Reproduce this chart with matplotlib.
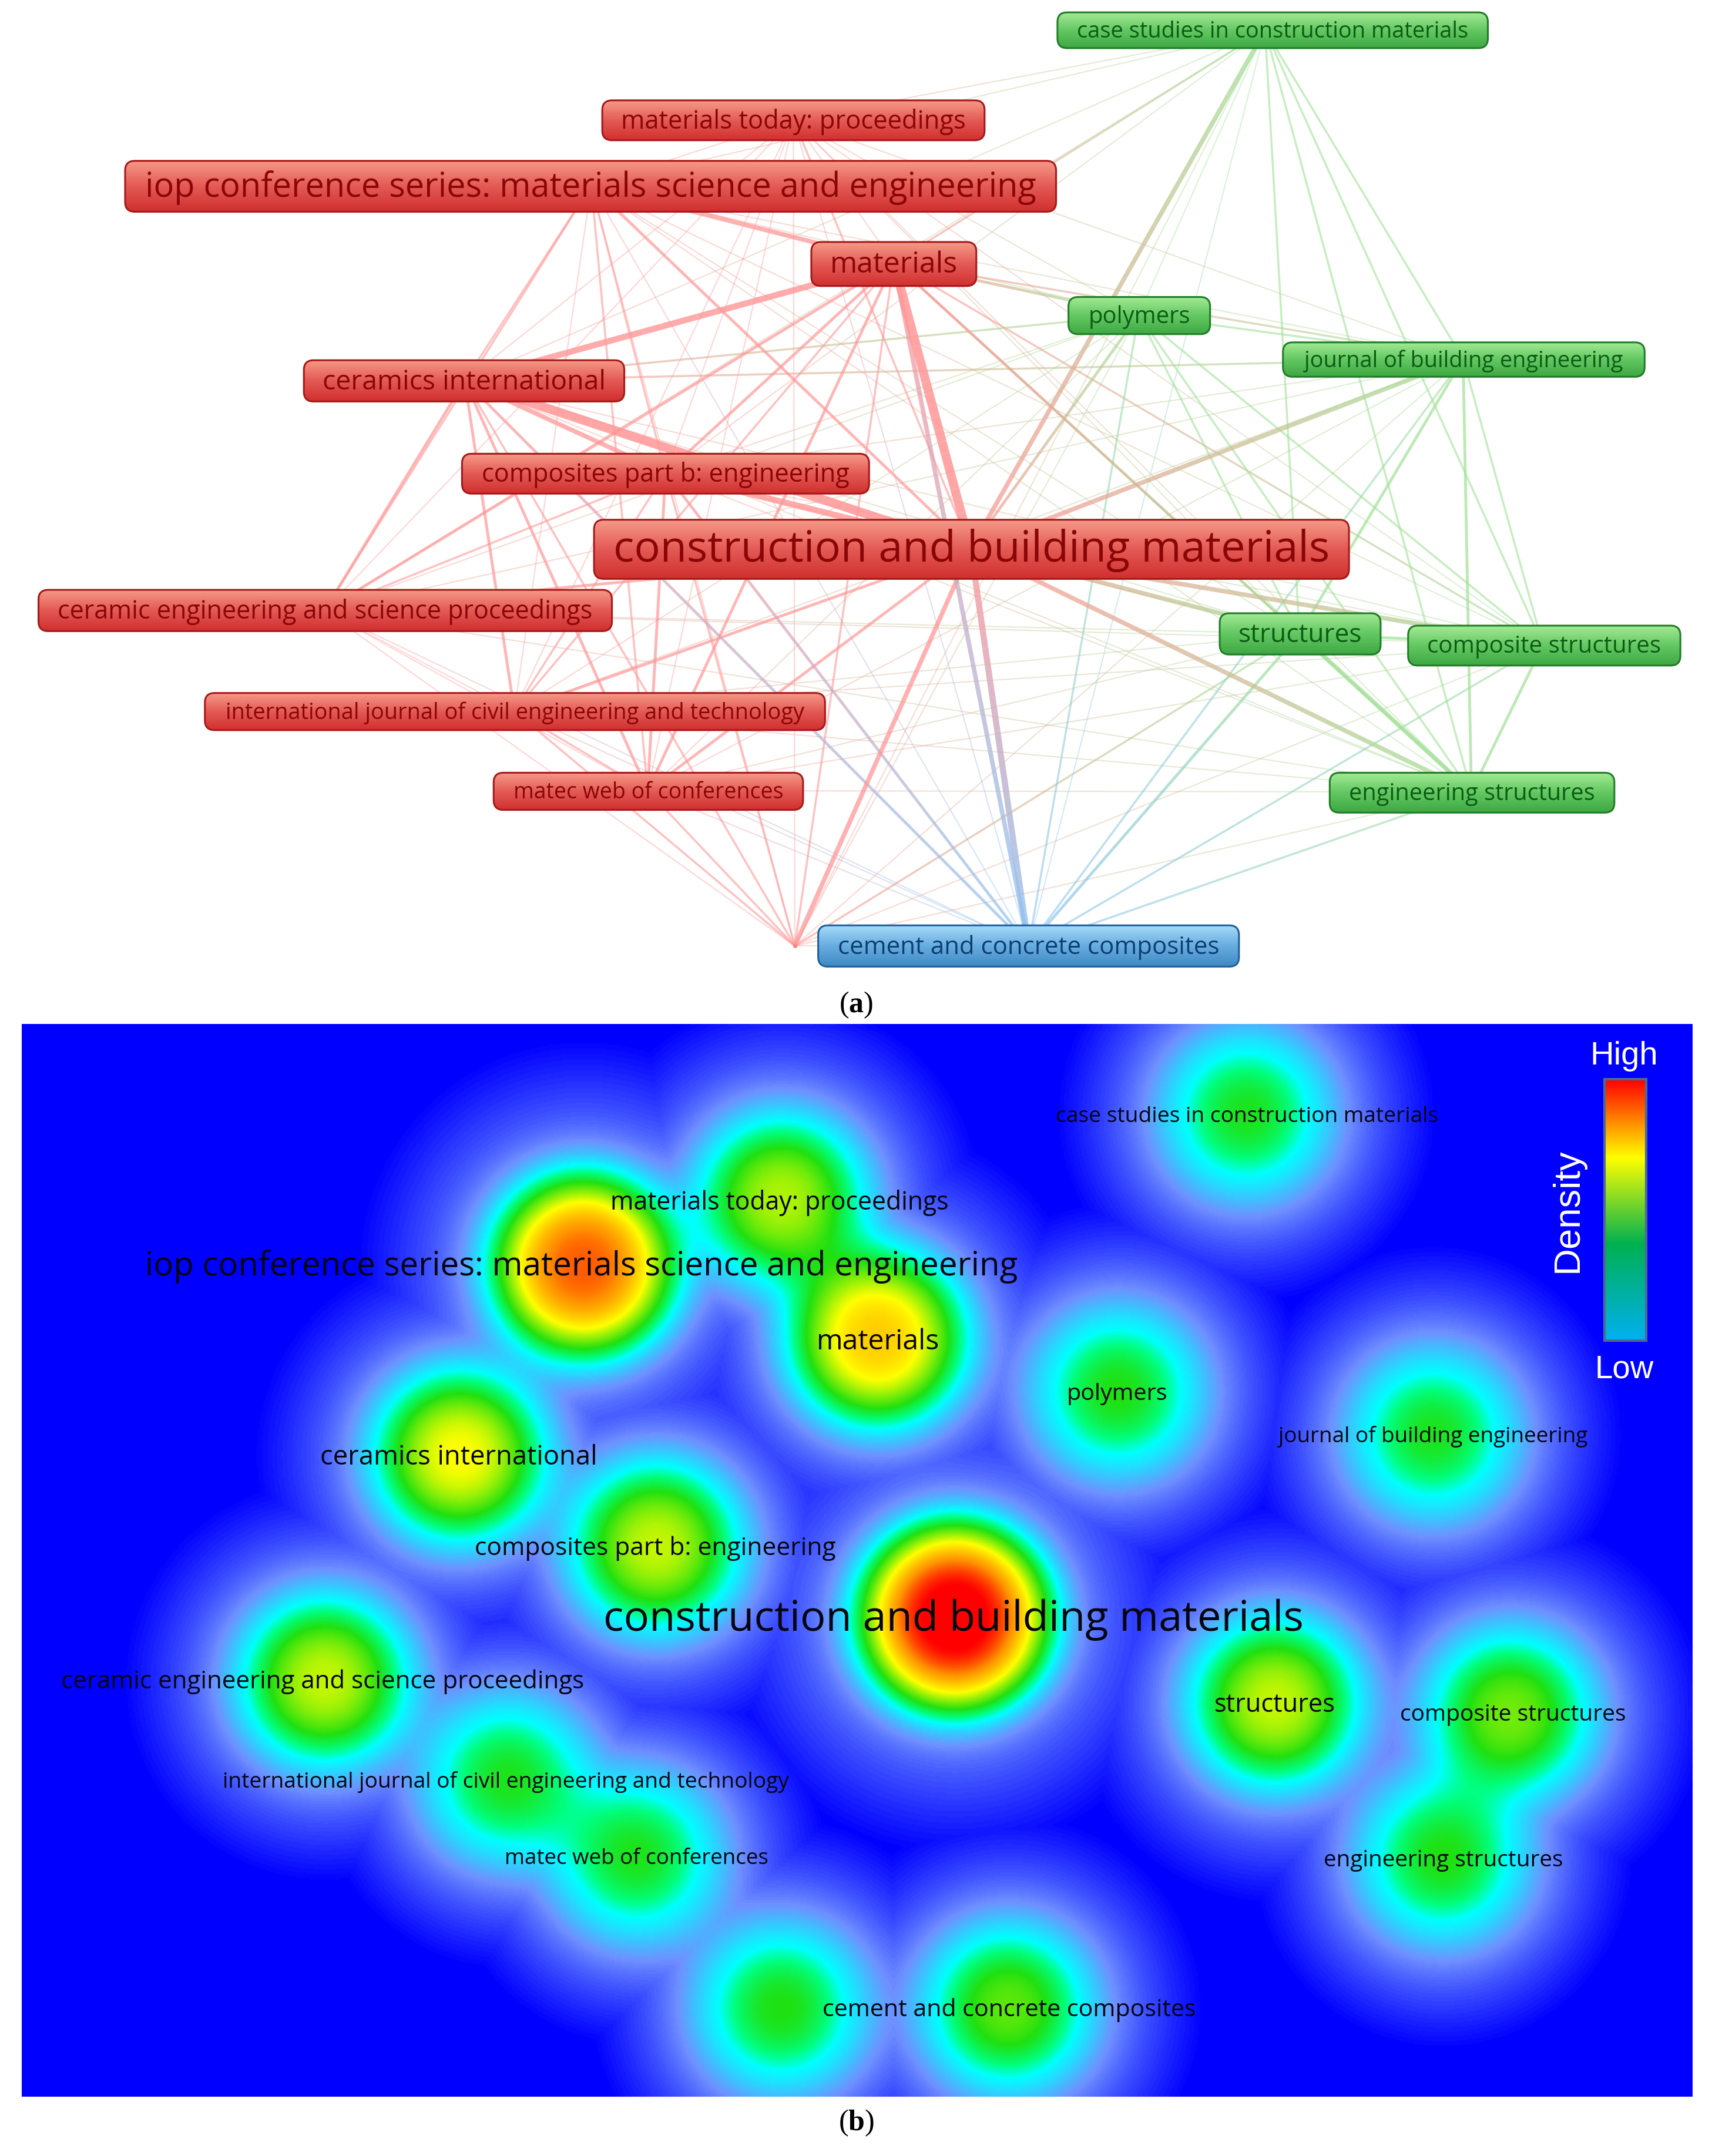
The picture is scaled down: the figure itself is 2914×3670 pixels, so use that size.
import numpy as np
import matplotlib
matplotlib.use("Agg")
import matplotlib.pyplot as plt
from matplotlib.collections import LineCollection
from matplotlib.colors import LinearSegmentedColormap
from matplotlib.font_manager import FontProperties
from matplotlib.patches import FancyBboxPatch, Rectangle
from matplotlib.textpath import TextPath

DPI = 100
FIG_W = 2914
FIG_H = 3670
# everything below is in "view" units, 1245 wide
VIEW_W = 1245
VIEW_H = VIEW_W * FIG_H / FIG_W
PX = FIG_W / VIEW_W

plt.rcParams["mathtext.fontset"] = "custom"
plt.rcParams["mathtext.rm"] = "Liberation Serif"
plt.rcParams["mathtext.bf"] = "Liberation Serif:bold"

labels = ["construction and building materials",
          "iop conference series: materials science and engineering",
          "materials", "ceramics international",
          "composites part b: engineering", "materials today: proceedings",
          "ceramic engineering and science proceedings",
          "international journal of civil engineering and technology",
          "matec web of conferences", "",
          "cement and concrete composites",
          "case studies in construction materials", "polymers",
          "journal of building engineering", "structures",
          "composite structures", "engineering structures"]
# cluster: r, g, b
clusters = list("rrrrrrrrrrbgggggg")

# network map
node_x = [706, 430, 650, 338, 484, 577, 236, 374, 471, 578, 748, 920, 828, 1064, 945, 1122, 1070]
node_y = [399, 135, 191, 277, 344, 87, 444, 517, 575, 688, 688, 22, 229, 261, 461, 469, 576]
box_x0 = [432, 91, 590, 221, 336, 438, 28, 149, 359, None, 595, 769, 777, 933, 887, 1024, 967]
box_x1 = [981, 768, 710, 454, 632, 716, 445, 600, 584, None, 901, 1082, 880, 1196, 1004, 1222, 1174]
box_y0 = [378, 117, 176, 262, 330, 73, 429, 504, 562, None, 673, 9, 216, 249, 446, 455, 562]
box_y1 = [421, 154, 208, 292, 359, 102, 459, 531, 589, None, 703, 35, 243, 274, 476, 484, 591]
text_w = [518, 646, 90, 203, 266, 249, 388, 419, 194, 0, 276, 283, 72, 232, 88, 168, 177]

# link strength, upper triangle, same order as labels
link_rows = [
    [3, 6, 6, 5, 2, 3, 3, 3, 4, 5, 4, 3, 4, 4, 4, 4],
    [4, 2, 2, 1, 2, 1, 2, 1, 1, 1, 1, 1, 1, 1, 1],
    [5, 3, 1, 3, 2, 3, 2, 4, 2, 3, 2, 3, 2, 2],
    [4, 1, 3, 3, 3, 2, 3, 1, 2, 2, 1, 1, 1],
    [1, 2, 2, 3, 2, 3, 1, 1, 1, 1, 1, 1],
    [1, 1, 1, 1, 1, 1, 1, 1, 1, 1, 1],
    [1, 1, 1, 1, 1, 1, 1, 1, 1, 1],
    [2, 2, 1, 0, 1, 1, 1, 1, 1],
    [2, 1, 0, 1, 1, 1, 1, 1],
    [1, 1, 1, 1, 2, 1, 1],
    [1, 2, 2, 3, 2, 2],
    [1, 2, 2, 2, 2],
    [2, 2, 2, 2],
    [3, 2, 3],
    [3, 4],
    [3],
]

# density map
peak_x = [694, 424, 638, 334, 477, 568, 236, 369, 463, 568, 733, 906, 813, 1042, 927, 1098, 1049]
peak_y = [1176, 920, 973, 1058, 1124, 872, 1222, 1294, 1350, 1460, 1460, 810, 1012, 1043, 1238, 1246, 1351]
peak_h = [1.0, 0.82, 0.62, 0.52, 0.46, 0.44, 0.46, 0.29, 0.29, 0.30, 0.36, 0.29, 0.30, 0.29, 0.46, 0.38, 0.30]
dens_text_x0 = [440, 107, 595, 234, 346, 445, 45, 163, 368, None, 599, 769, 777, 929, 884, 1019, 963]
dens_text_x1 = [947, 739, 682, 433, 607, 689, 424, 573, 558, None, 869, 1045, 848, 1155, 970, 1182, 1136]
dens_text_y = [1176, 919, 974, 1058, 1124, 873, 1221, 1294, 1350, None, 1460, 810, 1012, 1043, 1238, 1245, 1351]

edge_rgb = {"r": (255, 150, 150), "g": (160, 225, 150), "b": (140, 195, 245)}
edge_lw = [0, 1.5, 2.5, 3.5, 5.5, 7.5, 11]
edge_alpha = [0, 0.4, 0.6, 0.7, 0.75, 0.8, 0.85]
box_colors = {
    "r": ("#f59a88", "#e45a55", "#d0302f", "#a81818", "#8a0606"),
    "g": ("#a4ea94", "#62c862", "#3fa843", "#1f7d28", "#0d5c14"),
    "b": ("#a6dcfa", "#68ade0", "#3f8ac4", "#1f5f9c", "#0c3f70"),
}


def fit_size(s, width, fp):
    """Font size in points so that s is width view units wide"""
    w = TextPath((0, 0), s, size=100, prop=fp).get_extents().width
    em_px = width * PX / (w / 100)
    return em_px * 72 / DPI


fig = plt.figure(figsize=(FIG_W / DPI, FIG_H / DPI), dpi=DPI)
ax = fig.add_axes([0, 0, 1, 1])
ax.axis("off")

open_sans = FontProperties(family="Open Sans")
arial = FontProperties(family="Liberation Sans")

# links, weak ones first; colour runs from one end's cluster to the other's
n = len(labels)
links = []
for i, row in enumerate(link_rows):
    for j, w in zip(range(i + 1, n), row):
        if w > 0:
            links.append((w, i, j))
links.sort()
steps = 24
for w, i, j in links:
    xs = np.linspace(node_x[i], node_x[j], steps + 1)
    ys = np.linspace(node_y[i], node_y[j], steps + 1)
    pts = np.column_stack([xs, ys])
    segs = np.stack([pts[:-1], pts[1:]], axis=1)
    t = (np.arange(steps) + 0.5)[:, None] / steps
    c0 = np.array(edge_rgb[clusters[i]]) / 255
    c1 = np.array(edge_rgb[clusters[j]]) / 255
    rgb = c0 * (1 - t) + c1 * t
    rgba = np.column_stack([rgb, np.full(steps, edge_alpha[w])])
    ax.add_collection(LineCollection(segs, colors=rgba, linewidths=edge_lw[w],
                                     capstyle="butt", zorder=1))

# labels with gradient boxes
ax.plot([578], [688], "o", ms=4, color="#ff8080", zorder=2)
for i, s in enumerate(labels):
    if not s:
        continue
    top, mid, bottom, line, ink = box_colors[clusters[i]]
    cmap = LinearSegmentedColormap.from_list("box", [top, mid, bottom])
    x0, x1, y0, y1 = box_x0[i], box_x1[i], box_y0[i], box_y1[i]
    patch = FancyBboxPatch((x0, y0), x1 - x0, y1 - y0,
                           boxstyle="round,pad=0,rounding_size=7",
                           fc="none", ec=line, lw=2.2, zorder=4)
    ax.add_patch(patch)
    im = ax.imshow(np.linspace(0, 1, 64)[:, None], cmap=cmap, aspect="auto",
                   extent=(x0, x1, y1, y0), zorder=3)
    im.set_clip_path(patch)
    ax.text((x0 + x1) / 2, (y0 + y1) / 2 + 1, s, color=ink, ha="center", va="center",
            fontproperties=open_sans, fontsize=fit_size(s, text_w[i], open_sans), zorder=5)

# density panel; tall peaks are wider and flatter on top
gx, gy = np.meshgrid(np.arange(16, 1231), np.arange(745, 1525))
density = np.zeros_like(gx, dtype=float)
halo = np.zeros_like(gx, dtype=float)
for x, y, h in zip(peak_x, peak_y, peak_h):
    r = np.hypot(gx - x, gy - y)
    density += h * np.exp(-(r / (50 + 13 * h)) ** (2 + h))
    reach = 125 + 50 * h
    halo = np.maximum(halo, 0.16 * np.clip(1 - r / reach, 0, 1))
density = np.clip(density + halo * (density < 0.15) * (1 - density / 0.15), 0, 1)

density_cmap = LinearSegmentedColormap.from_list("density", [
    (0.0, "#0000ff"), (0.09, "#6f90ff"), (0.15, "#00ffff"), (0.21, "#00ff80"),
    (0.30, "#20e010"), (0.52, "#ffff00"), (0.75, "#ff9000"), (0.95, "#ff0000"), (1.0, "#ff0000")])
ax.imshow(density, cmap=density_cmap, vmin=0, vmax=1, aspect="auto", interpolation="bilinear",
          extent=(16, 1231, 1525, 745), zorder=1)

for i, s in enumerate(labels):
    if not s:
        continue
    x0, x1 = dens_text_x0[i], dens_text_x1[i]
    ax.text((x0 + x1) / 2, dens_text_y[i] + 2, s, color="#050510", ha="center", va="center",
            fontproperties=open_sans, fontsize=fit_size(s, x1 - x0, open_sans), zorder=5)

# colour scale
scale_cmap = LinearSegmentedColormap.from_list("scale", [
    (0.0, "#ff0000"), (0.30, "#ffff00"), (0.63, "#00b050"), (1.0, "#00b0f0")])
ax.imshow(np.linspace(0, 1, 256)[:, None], cmap=scale_cmap, aspect="auto",
          extent=(1167, 1197, 975, 785), zorder=3)
ax.add_patch(Rectangle((1167, 785), 30, 190, fc="none", ec="#4a6a90", lw=3, zorder=4))
ax.text(1181, 768, "High", color="white", ha="center", va="center", fontproperties=arial,
        fontsize=fit_size("High", 46, arial), zorder=5)
ax.text(1181, 996, "Low", color="white", ha="center", va="center", fontproperties=arial,
        fontsize=fit_size("Low", 41, arial), zorder=5)
ax.text(1140, 880, "Density", color="white", ha="center", va="center", rotation=90,
        fontproperties=arial, fontsize=fit_size("Density", 88, arial), zorder=5)

# captions
for y, letter in zip([731, 1544], "ab"):
    ax.text(622.5, y, "(" + r"$\mathbf{" + letter + "}$" + ")", color="black", ha="center",
            va="center", fontsize=36, family="Liberation Serif", zorder=5)

ax.set_xlim(0, VIEW_W)
ax.set_ylim(VIEW_H, 0)
fig.savefig("out.png", dpi=DPI, facecolor="white")
